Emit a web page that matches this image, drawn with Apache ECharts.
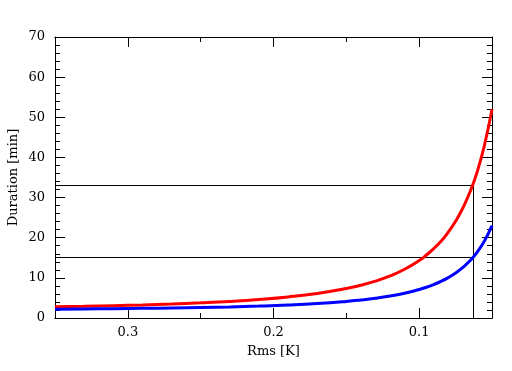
<!DOCTYPE html>
<html><head><meta charset="utf-8">
<script src="https://cdn.jsdelivr.net/npm/echarts@6/dist/echarts.min.js"></script>
<style>html,body{margin:0;padding:0;background:#fff}#c{width:512px;height:371px}</style>
</head><body><div id="c"></div>
<script>
const rmsValues = [0.35,0.33,0.31,0.29,0.27,0.25,0.23,0.21,0.19,0.17,0.15,0.14,0.13,0.12,0.11,0.10,0.095,0.09,0.085,0.08,0.075,0.07,0.065,0.06,0.055,0.05];
const redDuration = [2.79,2.91,3.07,3.25,3.48,3.77,4.13,4.61,5.24,6.11,7.34,8.17,9.19,10.48,12.14,14.3,15.7,17.3,19.1,21.4,24.1,27.4,31.5,36.6,43.3,52.0];
const blueDuration = [2.20,2.26,2.32,2.40,2.50,2.62,2.77,2.97,3.24,3.61,4.13,4.48,4.91,5.46,6.16,7.1,7.65,8.33,9.12,10.07,11.2,12.6,14.3,16.5,19.3,23.0];
const hLineLevels = [33.0, 15.07];
const vLineRms = 0.0627;
const xMajorTicks = [0.1, 0.2, 0.3];
const xMinorTicks = [0.05, 0.15, 0.25, 0.35];
const xRange = [0.05, 0.35];
const yRange = [0, 70];

const font = 'DejaVu Serif';
const black = '#000';
const pair = (xs, ys) => xs.map((x, i) => [x, ys[i]]);

const series = [];
hLineLevels.forEach(v => series.push({
  type: 'line', data: [[xRange[1], v], [vLineRms, v]], symbol: 'none', silent: true,
  lineStyle: { color: black, width: 1 }, z: 1
}));
series.push({
  type: 'line', data: [[vLineRms, 0], [vLineRms, hLineLevels[0]]], symbol: 'none', silent: true,
  lineStyle: { color: black, width: 1 }, z: 1
});
series.push({ type: 'line', data: pair(rmsValues, redDuration), symbol: 'none', smooth: true,
  lineStyle: { color: '#ff0000', width: 3 }, z: 3 });
series.push({ type: 'line', data: pair(rmsValues, blueDuration), symbol: 'none', smooth: true,
  lineStyle: { color: '#0000ff', width: 3 }, z: 3 });

function xAxisBase(pos, showLabel, ticks, len, extra) {
  return Object.assign({
    type: 'value', position: pos, min: xRange[0], max: xRange[1], inverse: true,
    axisLine: { show: true, onZero: false, lineStyle: { color: black, width: 1 } },
    axisTick: { show: true, inside: true, length: len, customValues: ticks, lineStyle: { color: black } },
    axisLabel: { show: showLabel, customValues: ticks, color: black, fontFamily: font, fontSize: 13, margin: 8,
      formatter: v => v.toFixed(1) },
    splitLine: { show: false }
  }, extra || {});
}
function yAxisBase(pos, showLabel, extra) {
  return Object.assign({
    type: 'value', position: pos, min: yRange[0], max: yRange[1], interval: 10,
    axisLine: { show: true, onZero: false, lineStyle: { color: black, width: 1 } },
    axisTick: { show: true, inside: true, length: 10, lineStyle: { color: black } },
    minorTick: { show: true, splitNumber: 5, length: 5, lineStyle: { color: black } },
    axisLabel: { show: showLabel, color: black, fontFamily: font, fontSize: 13, margin: 10 },
    splitLine: { show: false }
  }, extra || {});
}

const option = {
  animation: false,
  backgroundColor: '#fff',
  grid: { left: 55, right: 20, top: 37, bottom: 53, containLabel: false, outerBoundsMode: 'none' },
  xAxis: [
    xAxisBase('bottom', true, xMajorTicks, 10, { name: 'Rms [K]', nameLocation: 'middle', nameGap: 27,
      nameMoveOverlap: false,
      nameTextStyle: { color: black, fontFamily: font, fontSize: 13 } }),
    xAxisBase('bottom', false, xMinorTicks, 5),
    xAxisBase('top', false, xMajorTicks, 10),
    xAxisBase('top', false, xMinorTicks, 5)
  ],
  yAxis: [
    yAxisBase('left', true, { name: 'Duration [min]', nameLocation: 'middle', nameGap: 35,
      nameMoveOverlap: false,
      nameTextStyle: { color: black, fontFamily: font, fontSize: 13 } }),
    yAxisBase('right', false)
  ],
  series: series
};
const chart = echarts.init(document.getElementById('c'), null, { renderer: 'canvas' });
chart.setOption(option);
</script></body></html>
